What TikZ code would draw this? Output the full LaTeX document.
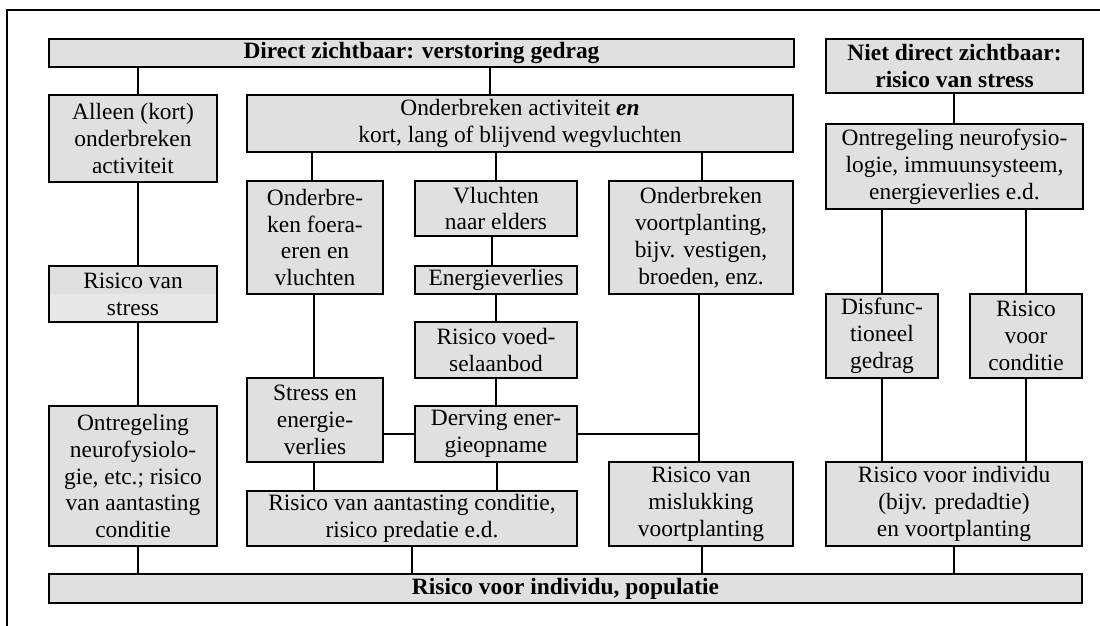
\documentclass[tikz,border=0pt]{standalone}
\usepackage{fontspec}
\setmainfont{Liberation Serif}
\usetikzlibrary{calc}
\definecolor{boxfill}{RGB}{224,224,224}
\definecolor{bandfill}{RGB}{232,232,232}
\begin{document}
\begin{tikzpicture}[x=1bp,y=-1bp,
  box/.style={draw,line width=2.6bp,fill=boxfill,rectangle,inner sep=0pt,
    align=center,font=\fontsize{23.5}{27}\selectfont},
  headbox/.style={box,font=\fontsize{23.5}{27}\selectfont\bfseries},
  link/.style={line width=2.6bp},
  frame/.style={line width=2.2bp}]
\useasboundingbox (0,0) rectangle (1100,626);

% boxes: \bx{name}{x1}{y1}{x2}{y2}{style}{text}
\newcommand\bx[7]{%
  \node[#6,minimum width={(#4-#2)*1bp},minimum height={(#5-#3)*1bp}]
    (#1) at ({(#2+#4)/2},{(#3+#5)/2}) {#7};}

% outer frame (top and left edges)
\coordinate (fa) at (7,626);
\coordinate (fb) at (7,10);
\coordinate (fc) at (1100,10);
\draw[frame] (fa) -- (fb) -- (fc);

\bx{top}{49}{39}{794}{67}{headbox}{Direct zichtbaar: verstoring gedrag}
\bx{nd}{826}{39}{1083}{93}{headbox}{Niet direct zichtbaar:\\risico van stress}
\bx{bot}{49}{574}{1082}{603}{headbox}{Risico voor individu, populatie}

% left column
\bx{al}{49}{95}{217}{182}{box}{Alleen (kort)\\onderbreken\\activiteit}
\bx{rs}{49}{266}{217}{322}{box,path picture={\fill[bandfill]
  (path picture bounding box.west) rectangle (path picture bounding box.south east);}}{Risico van\\stress}
\bx{on}{49}{406}{217}{546}{box}{Ontregeling\\neurofysiolo-\\gie, etc.; risico\\van aantasting\\conditie}

% middle block
\bx{ond}{247}{95}{793}{152}{box}{Onderbreken activiteit \textbf{\textit{en}}\\kort, lang of blijvend wegvluchten}
\bx{fo}{247}{181}{383}{294}{box}{Onderbre-\\ken foera-\\eren en\\vluchten}
\bx{vn}{415}{181}{577}{236}{box}{Vluchten\\naar elders}
\bx{ev}{415}{266}{577}{294}{box}{Energieverlies}
\bx{rv}{415}{322}{577}{378}{box}{Risico voed-\\selaanbod}
\bx{dv}{415}{406}{577}{462}{box}{Derving ener-\\gieopname}
\bx{se}{247}{378}{383}{462}{box}{Stress en\\energie-\\verlies}
\bx{ra}{247}{491}{577}{546}{box}{Risico van aantasting conditie,\\risico predatie e.d.}
\bx{vp}{609}{181}{793}{294}{box}{Onderbreken\\voortplanting,\\bijv. vestigen,\\broeden, enz.}
\bx{mk}{609}{462}{793}{546}{box}{Risico van\\mislukking\\voortplanting}

% right column
\bx{ng}{826}{124}{1083}{209}{box}{Ontregeling neurofysio-\\logie, immuunsysteem,\\energieverlies e.d.}
\bx{df}{826}{294}{938}{378}{box}{Disfunc-\\tioneel\\gedrag}
\bx{rc}{970}{294}{1082}{378}{box}{Risico\\voor\\conditie}
\bx{ri}{826}{462}{1082}{546}{box}{Risico voor individu\\(bijv. predadtie)\\en voortplanting}

% connectors
\begin{scope}[link]
\draw (top.south -| 138,0) -- (al.north -| 138,0);
\draw (top.south -| 490,0) -- (ond.north -| 490,0);
\draw (al.south -| 138,0) -- (rs.north -| 138,0);
\draw (rs.south -| 138,0) -- (on.north -| 138,0);
\draw (on.south -| 138,0) -- (bot.north -| 138,0);

\draw (ond.south -| 312,0) -- (fo.north -| 312,0);
\draw (ond.south -| 496,0) -- (vn.north -| 496,0);
\draw (ond.south -| 702,0) -- (vp.north -| 702,0);
\draw (fo.south -| 314,0) -- (se.north -| 314,0);
\draw (vn.south -| 492,0) -- (ev.north -| 492,0);
\draw (ev.south -| 496,0) -- (rv.north -| 496,0);
\draw (rv.south -| 496,0) -- (dv.north -| 496,0);
\draw (se.east |- 0,434) -- (dv.west |- 0,434);
\draw (vp.south -| 699,0) -- (mk.north -| 699,0);
\draw (dv.east |- 0,434) -| (mk.north -| 699,0);
\draw (se.south -| 314,0) -- (ra.north -| 314,0);
\draw (dv.south -| 497,0) -- (ra.north -| 497,0);
\draw (ra.south -| 412,0) -- (bot.north -| 412,0);
\draw (mk.south -| 702,0) -- (bot.north -| 702,0);

\draw (nd.south -| 954,0) -- (ng.north -| 954,0);
\draw (ng.south -| 882,0) -- (df.north -| 882,0);
\draw (ng.south -| 1026,0) -- (rc.north -| 1026,0);
\draw (df.south -| 882,0) -- (ri.north -| 882,0);
\draw (rc.south -| 1026,0) -- (ri.north -| 1026,0);
\draw (ri.south -| 954,0) -- (bot.north -| 954,0);
\end{scope}
\end{tikzpicture}
\end{document}
